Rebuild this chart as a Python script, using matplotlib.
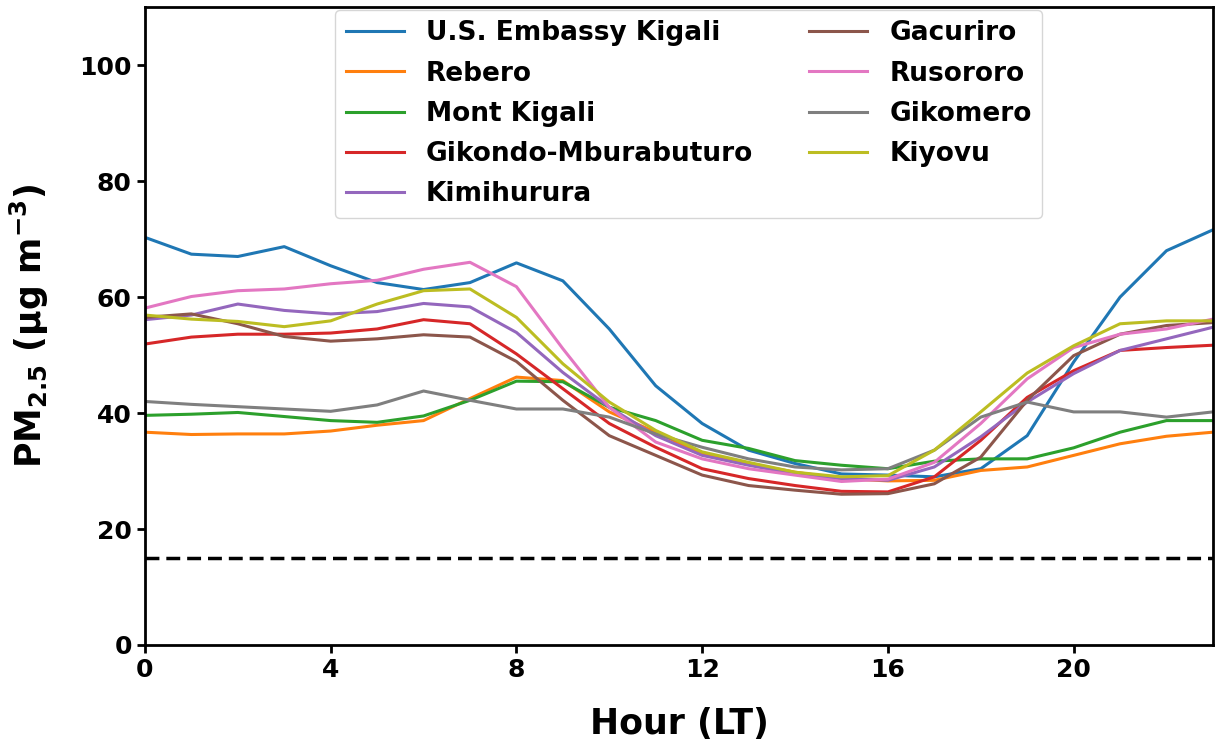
import matplotlib
matplotlib.use("Agg")
import matplotlib.pyplot as plt

HOURS = list(range(24))

SITES = [
    "U.S. Embassy Kigali",
    "Rebero",
    "Mont Kigali",
    "Gikondo-Mburabuturo",
    "Kimihurura",
    "Gacuriro",
    "Rusororo",
    "Gikomero",
    "Kiyovu",
]

us_embassy = [70.3, 67.4, 67.0, 68.7, 65.4, 62.5, 61.3, 62.5, 65.9, 62.8, 54.5, 44.7,
              38.2, 33.6, 31.3, 29.5, 29.3, 29.0, 30.4, 36.1, 48.8, 60.0, 68.0, 71.6]
rebero = [36.7, 36.3, 36.4, 36.4, 36.9, 37.9, 38.7, 42.5, 46.2, 45.6, 40.2, 36.7,
          33.0, 31.3, 29.8, 28.7, 28.3, 28.4, 30.1, 30.7, 32.7, 34.7, 36.0, 36.7]
mont_kigali = [39.6, 39.8, 40.1, 39.4, 38.7, 38.4, 39.5, 42.2, 45.5, 45.4, 41.0, 38.7,
               35.3, 33.9, 31.8, 31.0, 30.4, 31.7, 32.1, 32.1, 34.0, 36.7, 38.7, 38.7]
gikondo = [51.9, 53.1, 53.6, 53.6, 53.8, 54.5, 56.1, 55.4, 50.2, 44.2, 38.2, 34.1,
           30.4, 28.7, 27.5, 26.5, 26.4, 29.0, 35.3, 42.7, 47.3, 50.8, 51.3, 51.7]
kimihurura = [56.1, 56.9, 58.8, 57.7, 57.1, 57.5, 58.9, 58.3, 53.9, 47.0, 41.0, 36.1,
              32.7, 31.0, 29.5, 28.7, 28.4, 30.7, 35.9, 41.9, 46.8, 50.8, 52.8, 54.8]
gacuriro = [56.5, 57.1, 55.4, 53.2, 52.4, 52.8, 53.5, 53.1, 48.9, 42.2, 36.1, 32.7,
            29.3, 27.5, 26.7, 26.0, 26.1, 27.8, 32.4, 42.2, 49.9, 53.6, 55.1, 55.6]
rusororo = [58.1, 60.1, 61.1, 61.4, 62.3, 62.9, 64.8, 66.0, 61.8, 51.1, 41.0, 35.0,
            32.1, 30.4, 29.3, 28.2, 28.6, 31.5, 38.2, 45.9, 51.3, 53.6, 54.5, 56.2]
gikomero = [42.0, 41.5, 41.1, 40.7, 40.3, 41.4, 43.8, 42.2, 40.7, 40.7, 39.3, 36.4,
            34.1, 32.1, 30.7, 30.2, 30.4, 33.6, 39.3, 41.9, 40.2, 40.2, 39.3, 40.2]
kiyovu = [56.9, 56.2, 55.8, 54.9, 55.9, 58.8, 61.1, 61.4, 56.5, 48.5, 41.9, 37.0,
          33.3, 31.5, 29.8, 29.0, 29.2, 33.6, 40.2, 46.9, 51.6, 55.4, 55.9, 55.9]

SERIES = [us_embassy, rebero, mont_kigali, gikondo, kimihurura,
          gacuriro, rusororo, gikomero, kiyovu]

WHO_GUIDELINE = 15

plt.rcParams["font.family"] = "DejaVu Sans"
plt.rcParams["font.weight"] = "bold"

fig = plt.figure(figsize=(12.15, 7.46), dpi=100)
ax = fig.add_axes([0.1193, 0.1354, 0.879, 0.855])

for name, values in zip(SITES, SERIES):
    ax.plot(HOURS, values, linewidth=2.2, label=name)

ax.axhline(WHO_GUIDELINE, color="black", linestyle="--", linewidth=2.5, dashes=(4, 2))

ax.set_xlim(0, 23)
ax.set_ylim(0, 110)
ax.set_xticks([0, 4, 8, 12, 16, 20])
ax.set_yticks([0, 20, 40, 60, 80, 100])
ax.tick_params(labelsize=18, width=2, length=6)
for label in ax.get_xticklabels() + ax.get_yticklabels():
    label.set_fontweight("bold")
for spine in ax.spines.values():
    spine.set_linewidth(2)

ax.set_xlabel("Hour (LT)", fontsize=25, fontweight="bold", labelpad=18)
ax.set_ylabel(r"$\mathbf{PM_{2.5}}$ $\mathbf{(\mu g\ m^{-3})}$", fontsize=25,
              fontweight="bold", labelpad=20)

ax.legend(loc="upper center", bbox_to_anchor=(0.509, 1.0), ncol=2,
          prop={"weight": "bold", "size": 19}, columnspacing=2.1,
          handlelength=2.2, handletextpad=0.85, labelspacing=0.54,
          borderpad=0.4, borderaxespad=0.1)

fig.savefig("out.png", dpi=100)
